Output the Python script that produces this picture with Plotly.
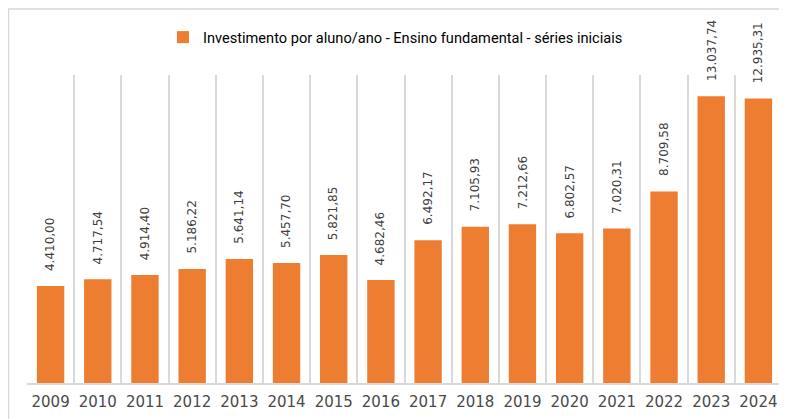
import plotly.graph_objects as go

years = ["2009", "2010", "2011", "2012", "2013", "2014", "2015", "2016",
         "2017", "2018", "2019", "2020", "2021", "2022", "2023", "2024"]
values = [4410.00, 4717.54, 4914.40, 5186.22, 5641.14, 5457.70, 5821.85, 4682.46,
          6492.17, 7105.93, 7212.66, 6802.57, 7020.31, 8709.58, 13037.74, 12935.31]
series_name = "Investimento por aluno/ano - Ensino fundamental - séries iniciais"


def br(v):
    s = f"{v:,.2f}"
    return s.replace(",", "X").replace(".", ",").replace("X", ".")


labels = [br(v) for v in values]

ORANGE = "#ED7D31"
GRID = "#D9D9D9"

fig = go.Figure()
fig.add_trace(go.Bar(
    x=years, y=values, name=series_name,
    marker=dict(color=ORANGE, line=dict(width=0)),
    showlegend=True,
))

for i, (y, t) in enumerate(zip(values, labels)):
    fig.add_annotation(
        x=i, y=y, text=t, textangle=-90, showarrow=False,
        xanchor="center", yanchor="bottom", yshift=13,
        font=dict(family="DejaVu Sans", size=12, color="#404040"),
    )

# outer chart frame
fig.add_shape(type="rect", xref="paper", yref="paper",
              x0=-0.0245, x1=1.03, y0=-0.25, y1=1.214,
              line=dict(color=GRID, width=1.5), layer="below")

fig.update_layout(
    width=779, height=411,
    margin=dict(l=19, r=5, t=67, b=36),
    paper_bgcolor="white", plot_bgcolor="white",
    bargap=0.42,
    showlegend=True,
    legend=dict(orientation="h", x=0.488, xanchor="center", y=1.123, yanchor="middle",
                font=dict(family="Roboto, sans-serif", size=14.6, color="#000000"),
                bgcolor="rgba(0,0,0,0)"),
    xaxis=dict(type="category", tickson="boundaries", showgrid=True, gridcolor=GRID,
               gridwidth=1.5, ticks="", showline=True, linecolor=GRID, linewidth=1.5,
               tickfont=dict(family="DejaVu Sans", size=15, color="#4a4a4a"),
               ticklabelstandoff=4,
               range=[-0.5, 15.5]),
    yaxis=dict(range=[0, 14000], showgrid=False, showticklabels=False, zeroline=False,
               ticks="", showline=False),
    font=dict(family="DejaVu Sans"),
)

fig.write_html("out.html")
